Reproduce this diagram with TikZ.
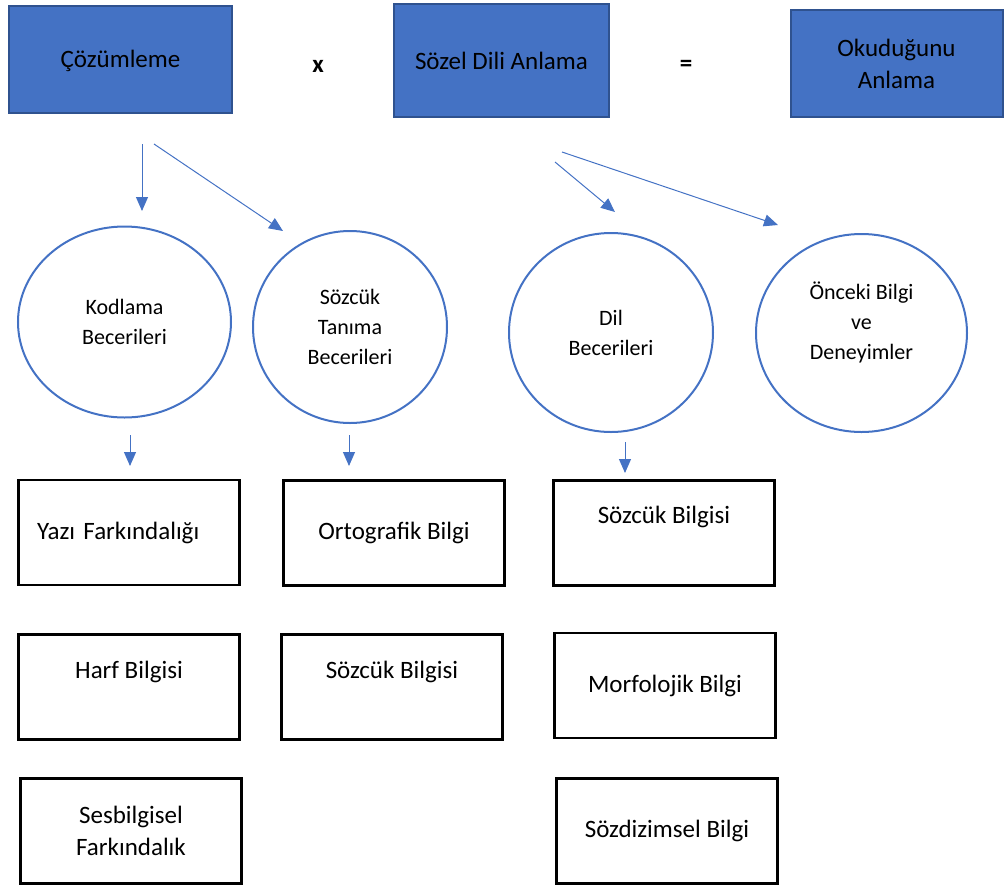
\documentclass[tikz,border=0pt]{standalone}
\usepackage{fontspec}
\setmainfont{Carlito}
\usetikzlibrary{shapes.geometric,arrows.meta}

\definecolor{office blue}{HTML}{4472C4}
\definecolor{box edge}{HTML}{2F528F}
\tikzset{
  mainbox/.style={fill=office blue, draw=box edge, line width=2pt, inner sep=0pt, align=center, font=\fontsize{25}{32}\selectfont},
  skill/.style={ellipse, draw=office blue, line width=2pt, inner sep=0pt, align=center, font=\fontsize{22}{30}\selectfont},
  raised/.style={text height=18pt, text depth=#1}
  }
\tikzstyle{operator} = [font=\fontsize{25}{30}\selectfont\bfseries]
\tikzstyle{infobox} = [draw, line width=2.5pt, minimum width=221pt, minimum height=105pt, inner sep=0pt, align=center, font=\fontsize{25}{32}\selectfont]
\tikzstyle{link} = [draw=office blue, line width=1pt, -{Triangle[length=14pt,width=12pt]}]
\def\skills{{(124.5,322)/kodlama/213/191/Kodlama\\Becerileri}, {(350,327)/tanima/194/192/Sözcük\\Tanıma\\Becerileri}, {(611,332.5)/dil/204/199/Dil\\Becerileri}}
\def\links{142/144/142/211/1, 154/144/283/231/2, 555/162/615/212/3, 562/152/778/225/4, 130/435/130/466/5, 349/435/349/466/6, 625/442/625/473/7}

\begin{document}
\begin{tikzpicture}[x=1pt, y=-1pt]
    \useasboundingbox (0,0) rectangle (1005,887);

    % The formula on top
    \node[mainbox, minimum width=223pt, minimum height=107pt, text height=20pt, text depth=4pt] (cozumleme) at (120.5,59.5) {Çözümleme};
    \node[operator] (times) at (318,66) {x};
    \node[mainbox, minimum width=215pt, minimum height=113pt] (sozeldil) at (501.5,60.5) {Sözel Dili Anlama};
    \node[operator] (equals) at (686,66) {=};
    \node[mainbox, minimum width=212pt, minimum height=107pt] (okudugunu) at (896.5,63.5) {Okuduğunu\\Anlama};

    % the skills
    \foreach \pos/\name/\w/\h/\txt in \skills
      \node[skill, minimum width=\w pt, minimum height=\h pt] (\name) at \pos {\txt};
    \node[skill, minimum width=211pt, minimum height=198pt, text height=57pt, text depth=5pt] (onceki) at (861.5,333) {Önceki Bilgi\\ve\\Deneyimler};

    % The knowledge boxes
    \node[infobox, text width=184pt, align=left] (yazi) at (129,532.5) {Yazı Farkındalığı};
    \node[infobox, raised=36pt] (harf) at (129,687) {Harf Bilgisi};
    \node[infobox] (sesbilgi) at (131,831) {Sesbilgisel\\Farkındalık};
    \node[infobox] (ortografik) at (394,533) {Ortografik Bilgi};
    \node[infobox, raised=36pt] (sozcuka) at (392,687) {Sözcük Bilgisi};
    \node[infobox, raised=38pt] (sozcukb) at (664,533) {Sözcük Bilgisi};
    \node[infobox] (morfoloji) at (665,685.5) {Morfolojik Bilgi};
    \node[infobox] (sozdizim) at (667,831) {Sözdizimsel Bilgi};

    % The arrows between them
    \foreach \sx/\sy/\ex/\ey/\n in \links {
      \coordinate (s\n) at (\sx,\sy);
      \coordinate (e\n) at (\ex,\ey);
      \path[link] (s\n) -- (e\n);
    }
\end{tikzpicture}
\end{document}
